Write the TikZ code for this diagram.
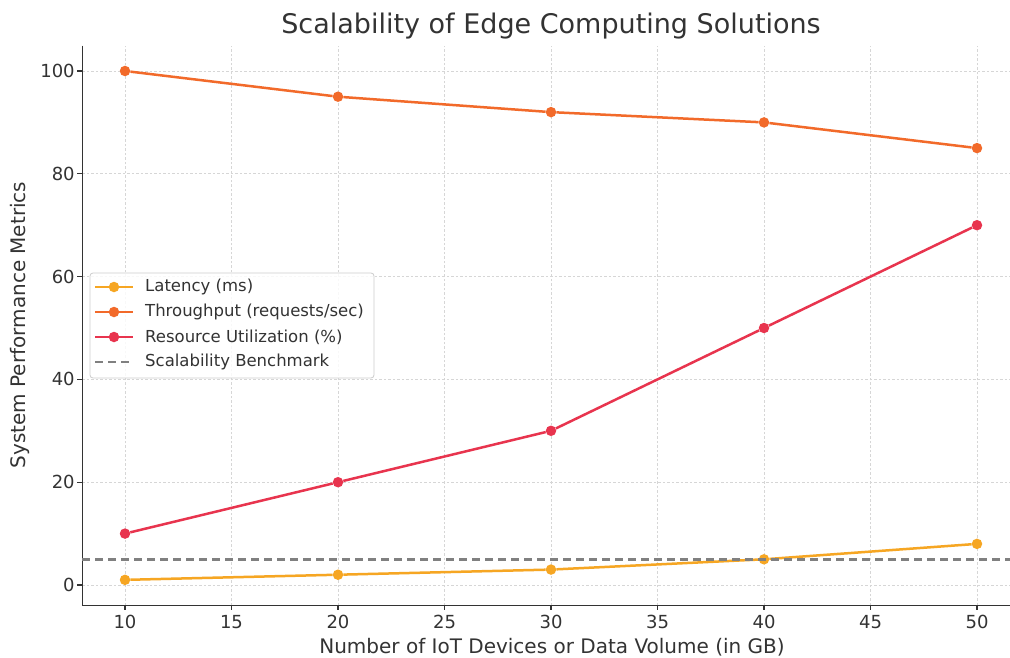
\documentclass[tikz,border=0pt]{standalone}
\usepackage{fontspec}
\setmainfont{DejaVu Sans}
\usetikzlibrary{positioning}

\definecolor{latenz}{HTML}{F6A623}
\definecolor{durchsatz}{HTML}{F26A2A}
\definecolor{auslast}{HTML}{E8344E}
\definecolor{schrift}{HTML}{333333}

\tikzset{
  gitter/.style={draw=black!16, line width=0.8pt, dash pattern=on 2.5pt off 2pt},
  achse/.style={draw=schrift, line width=1.4pt},
  linie/.style={line width=2.5pt},
  punkt/.style={circle, fill=#1, inner sep=0pt, minimum size=10.5pt},
  tickbeschr/.style={inner sep=0pt, text=schrift, font=\fontsize{18}{20}\selectfont},
  legtext/.style={inner sep=0pt, text=schrift, anchor=west, font=\fontsize{16.5}{19}\selectfont},
}

\begin{document}
\begin{tikzpicture}[x=1pt, y=-1pt]
\useasboundingbox (0,0) rectangle (1010,658);
\fill[white] (0,0) rectangle (1010,658);

\node [text=schrift, font=\fontsize{27}{30}\selectfont, inner sep=0pt] (titel) at (551,26) {Scalability of Edge Computing Solutions};
\node [text=schrift, font=\fontsize{20}{22}\selectfont, inner sep=0pt] (xtitel) at (552,647) {Number of IoT Devices or Data Volume (in GB)};
\node [text=schrift, font=\fontsize{20}{22}\selectfont, inner sep=0pt, rotate=90] (ytitel) at (20,325) {System Performance Metrics};

\begin{scope}[shift={(-88,585)}, x=21.3pt, y=5.14pt]
  \foreach \xx in {10,15,...,50}
    \draw [gitter] (\xx,-3.95) -- (\xx,104.95);
  \foreach \yy in {0,20,...,100}
    \draw [gitter] (8,\yy) -- (52,\yy);

  \coordinate (ursprung) at (8,-3.95);
  \coordinate (oben) at (8,104.95);
  \coordinate (rechts) at (52,-3.95);
  \draw [achse] (oben) -- (ursprung) -- (rechts);

  \foreach \xx in {10,15,...,50} {
    \draw [achse] (\xx,-3.95) -- ++(0pt,-5pt);
    \node [tickbeschr, anchor=base] (xt\xx) at (\xx,-3.95) [yshift=-23pt] {\xx};
  }
  \foreach \yy in {0,20,...,100} {
    \draw [achse] (8,\yy) -- ++(-5pt,0pt);
    \node [tickbeschr, anchor=east] (yt\yy) at (8,\yy) [xshift=-7.5pt] {\yy};
  }

  \foreach \xx/\yy [count=\i] in {10/1,20/2,30/3,40/5,50/8}
    \node [punkt=latenz] (l\i) at (\xx,\yy) {};
  \draw [latenz, linie] (l1) -- (l2) -- (l3) -- (l4) -- (l5);

  \foreach \xx/\yy [count=\i] in {10/100,20/95,30/92,40/90,50/85}
    \node [punkt=durchsatz] (d\i) at (\xx,\yy) {};
  \draw [durchsatz, linie] (d1) -- (d2) -- (d3) -- (d4) -- (d5);

  \foreach \xx/\yy [count=\i] in {10/10,20/20,30/30,40/50,50/70}
    \node [punkt=auslast] (r\i) at (\xx,\yy) {};
  \draw [auslast, linie] (r1) -- (r2) -- (r3) -- (r4) -- (r5);

  \coordinate (bench1) at (8,5);
  \coordinate (bench2) at (52,5);
  \draw [black!50, linie, dash pattern=on 8pt off 5pt] (bench1) -- (bench2);
\end{scope}

\begin{scope}
  \draw [black!20, fill=white, fill opacity=0.85, rounded corners=3pt, line width=0.8pt] (90,273) rectangle (374,378);
  \foreach \farbe/\eintrag [count=\i] in {latenz/{Latency (ms)}, durchsatz/{Throughput (requests/sec)}, auslast/{Resource Utilization (\%)}} {
    \coordinate (la\i) at (95,{262+25*\i});
    \coordinate (lb\i) at (133,{262+25*\i});
    \draw [\farbe, linie] (la\i) -- (lb\i);
    \node [punkt=\farbe] (lm\i) at (114,{262+25*\i}) {};
    \node [legtext] (lt\i) at (145,{262+25*\i}) {\eintrag};
  }
  \coordinate (la4) at (95,362);
  \coordinate (lb4) at (133,362);
  \draw [black!50, linie, dash pattern=on 8pt off 5pt] (la4) -- (lb4);
  \node [legtext] (lt4) at (145,362) {Scalability Benchmark};
\end{scope}
\end{tikzpicture}
\end{document}
